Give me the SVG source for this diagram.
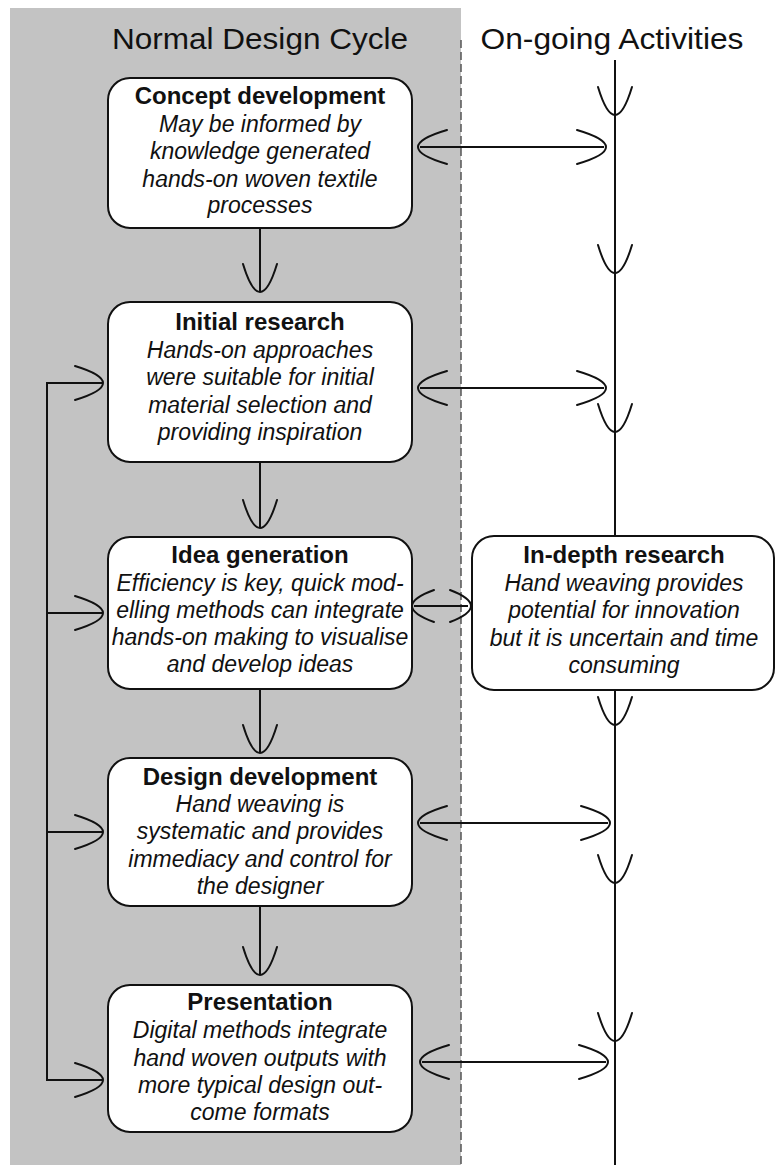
<svg xmlns="http://www.w3.org/2000/svg" width="776" height="1165" viewBox="0 0 776 1165">
<style>
.box{fill:#fff;stroke:#111;stroke-width:2}
.ln{fill:none;stroke:#111;stroke-width:2}
.hd{fill:none;stroke:#111;stroke-width:2;stroke-linecap:round}
.hdr{font-family:"Liberation Sans",Arial,sans-serif;font-size:30px;fill:#111;text-anchor:middle}
.t{font-family:"Liberation Sans",Arial,sans-serif;font-size:24px;font-weight:bold;fill:#111;text-anchor:middle}
.b{font-family:"Liberation Sans",Arial,sans-serif;font-size:23px;font-style:italic;fill:#111;text-anchor:middle}
</style>
<rect x="0" y="0" width="776" height="1165" fill="#fff"/>
<rect x="10" y="8" width="451" height="1157" fill="#c3c3c3"/>
<line x1="461" y1="40" x2="461" y2="1165" stroke="#555" stroke-width="1.5" stroke-dasharray="8,4"/>
<text class="hdr" x="260" y="49" textLength="296" lengthAdjust="spacingAndGlyphs">Normal Design Cycle</text>
<text class="hdr" x="612" y="49" textLength="263" lengthAdjust="spacingAndGlyphs">On-going Activities</text>

<g id="connectors">
  <!-- vertical on-going line -->
  <line class="ln" x1="615" y1="60" x2="615" y2="1165"/>
  <path class="hd" d="M598,87 Q606.5,115 615,115 Q623.5,115 632,87"/>
  <path class="hd" d="M598,245 Q606.5,273 615,273 Q623.5,273 632,245"/>
  <path class="hd" d="M598,404 Q606.5,432 615,432 Q623.5,432 632,404"/>
  <path class="hd" d="M598,697 Q606.5,725 615,725 Q623.5,725 632,697"/>
  <path class="hd" d="M598,855 Q606.5,883 615,883 Q623.5,883 632,855"/>
  <path class="hd" d="M598,1013 Q606.5,1041 615,1041 Q623.5,1041 632,1013"/>

  <!-- down arrows between cycle boxes -->
  <line class="ln" x1="260" y1="228" x2="260" y2="292"/>
  <path class="hd" d="M243,264 Q251.5,292 260,292 Q268.5,292 277,264"/>
  <line class="ln" x1="260" y1="462" x2="260" y2="528"/>
  <path class="hd" d="M243,500 Q251.5,528 260,528 Q268.5,528 277,500"/>
  <line class="ln" x1="260" y1="689" x2="260" y2="753"/>
  <path class="hd" d="M243,725 Q251.5,753 260,753 Q268.5,753 277,725"/>
  <line class="ln" x1="260" y1="906" x2="260" y2="975"/>
  <path class="hd" d="M243,947 Q251.5,975 260,975 Q268.5,975 277,947"/>

  <!-- left feedback loop -->
  <path class="ln" d="M103,383 H47 V1080 H103"/>
  <line class="ln" x1="47" y1="613" x2="103" y2="613"/>
  <line class="ln" x1="47" y1="832" x2="103" y2="832"/>
  <path class="hd" d="M75,366 Q103,374.5 103,383 Q103,391.5 75,400"/>
  <path class="hd" d="M75,596 Q103,604.5 103,613 Q103,621.5 75,630"/>
  <path class="hd" d="M75,815 Q103,823.5 103,832 Q103,840.5 75,849"/>
  <path class="hd" d="M75,1063 Q103,1071.5 103,1080 Q103,1088.5 75,1097"/>

  <!-- horizontal double arrows -->
  <line class="ln" x1="420" y1="147" x2="604" y2="147"/>
  <path class="hd" d="M447,130 Q418,138.5 418,147 Q418,155.5 447,164"/>
  <path class="hd" d="M577,130 Q606,138.5 606,147 Q606,155.5 577,164"/>
  <line class="ln" x1="420" y1="388" x2="604" y2="388"/>
  <path class="hd" d="M447,371 Q418,379.5 418,388 Q418,396.5 447,405"/>
  <path class="hd" d="M577,371 Q606,379.5 606,388 Q606,396.5 577,405"/>
  <line class="ln" x1="414" y1="606" x2="468" y2="606"/>
  <path class="hd" d="M434,590 Q412,598 412,606 Q412,614 434,622"/>
  <path class="hd" d="M450,590 Q471,598 471,606 Q471,614 450,622"/>
  <line class="ln" x1="420" y1="823" x2="608" y2="823"/>
  <path class="hd" d="M447,806 Q418,814.5 418,823 Q418,831.5 447,840"/>
  <path class="hd" d="M581,806 Q610,814.5 610,823 Q610,831.5 581,840"/>
  <line class="ln" x1="422" y1="1062" x2="606" y2="1062"/>
  <path class="hd" d="M449,1045 Q420,1053.5 420,1062 Q420,1070.5 449,1079"/>
  <path class="hd" d="M579,1045 Q608,1053.5 608,1062 Q608,1070.5 579,1079"/>
</g>

<g id="concept">
  <rect class="box" x="108" y="78" width="304" height="150" rx="22"/>
  <text class="t" x="260" y="104">Concept development</text>
  <text class="b" x="260" y="132">May be informed by</text>
  <text class="b" x="260" y="159">knowledge generated</text>
  <text class="b" x="260" y="187">hands-on woven textile</text>
  <text class="b" x="260" y="213">processes</text>
</g>
<g id="initial">
  <rect class="box" x="108" y="302" width="304" height="160" rx="22"/>
  <text class="t" x="260" y="330">Initial research</text>
  <text class="b" x="260" y="358">Hands-on approaches</text>
  <text class="b" x="260" y="385">were suitable for initial</text>
  <text class="b" x="260" y="413">material selection and</text>
  <text class="b" x="260" y="440">providing inspiration</text>
</g>
<g id="idea">
  <rect class="box" x="108" y="537" width="304" height="152" rx="22"/>
  <text class="t" x="260" y="563">Idea generation</text>
  <text class="b" x="260" y="591">Efficiency is key, quick mod-</text>
  <text class="b" x="260" y="618">elling methods can integrate</text>
  <text class="b" x="260" y="645">hands-on making to visualise</text>
  <text class="b" x="260" y="672">and develop ideas</text>
</g>
<g id="design">
  <rect class="box" x="108" y="758" width="304" height="148" rx="22"/>
  <text class="t" x="260" y="785">Design development</text>
  <text class="b" x="260" y="812">Hand weaving is</text>
  <text class="b" x="260" y="839">systematic and provides</text>
  <text class="b" x="260" y="867">immediacy and control for</text>
  <text class="b" x="260" y="894">the designer</text>
</g>
<g id="presentation">
  <rect class="box" x="108" y="985" width="304" height="147" rx="22"/>
  <text class="t" x="260" y="1010">Presentation</text>
  <text class="b" x="260" y="1038">Digital methods integrate</text>
  <text class="b" x="260" y="1066">hand woven outputs with</text>
  <text class="b" x="260" y="1093">more typical design out-</text>
  <text class="b" x="260" y="1120">come formats</text>
</g>
<g id="indepth">
  <rect class="box" x="472" y="536" width="302" height="154" rx="22"/>
  <text class="t" x="624" y="563">In-depth research</text>
  <text class="b" x="624" y="591">Hand weaving provides</text>
  <text class="b" x="624" y="618">potential for innovation</text>
  <text class="b" x="624" y="646">but it is uncertain and time</text>
  <text class="b" x="624" y="673">consuming</text>
</g>
</svg>
